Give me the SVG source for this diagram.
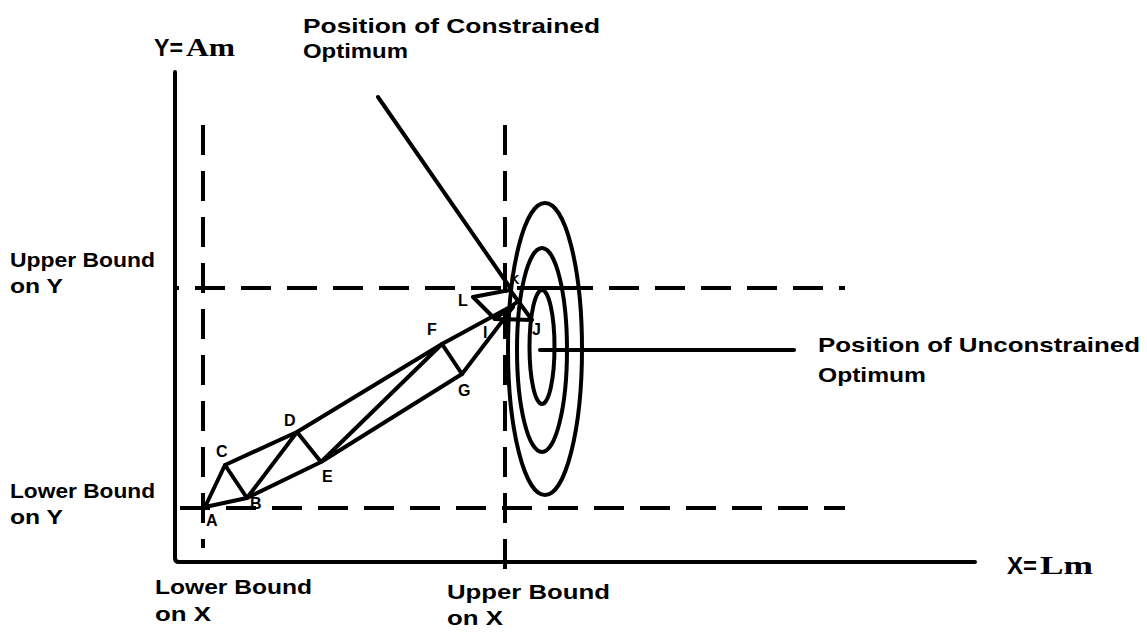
<svg xmlns="http://www.w3.org/2000/svg" width="1147" height="636" viewBox="0 0 1147 636">
<style>
.ln{stroke:#000;stroke-width:4;fill:none;stroke-linecap:round;stroke-linejoin:round}
.ds{stroke:#000;stroke-width:4;fill:none;stroke-dasharray:30 16}
.t{font-family:"Liberation Sans","DejaVu Sans",sans-serif;font-weight:bold;font-size:21px;fill:#000}
.s{font-family:"Liberation Sans","DejaVu Sans",sans-serif;font-weight:bold;font-size:16px;fill:#000}
.m{font-family:"Liberation Serif","DejaVu Serif",serif;font-weight:bold;font-size:25px;fill:#000}
</style>
<rect width="1147" height="636" fill="#fff"/>
<g id="axes">
<path class="ln" d="M175,72 V558 Q175,562 179,562 H975"/>
</g>
<g id="bounds">
<line class="ds" x1="203" y1="125" x2="203" y2="548"/>
<line class="ds" x1="505" y1="125" x2="505" y2="580"/>
<line class="ds" x1="175" y1="288" x2="845" y2="288" stroke-dashoffset="-20"/>
<line class="ds" x1="175" y1="508" x2="845" y2="508" stroke-dashoffset="-5"/>
<line class="ln" x1="538" y1="288" x2="582" y2="288"/>
</g>
<g id="contours">
<ellipse class="ln" cx="545" cy="349" rx="37" ry="146"/>
<ellipse class="ln" cx="542" cy="350" rx="25" ry="102"/>
<ellipse class="ln" cx="542" cy="347" rx="12.5" ry="57"/>
</g>
<g id="connectors">
<polyline class="ln" points="205,507 225,465 247,498 205,507"/>
<polyline class="ln" points="225,465 297,432 247,498 321,462 297,432 442,344 321,462 462,374 442,344"/>
<polyline class="ln" points="442,344 512,306"/>
<polyline class="ln" points="462,374 513,307"/>
<polyline class="ln" points="473,297 510,290 532,320 495,319 473,297"/>
<polyline class="ln" points="495,319 517,302"/>
<line class="ln" x1="378" y1="97" x2="511" y2="289"/>
<line class="ln" x1="540" y1="350" x2="794" y2="350"/>
</g>
<g id="pointA"><text class="s" x="206" y="526">A</text></g>
<g id="pointB"><text class="s" x="250" y="509">B</text></g>
<g id="pointC"><text class="s" x="216" y="457">C</text></g>
<g id="pointD"><text class="s" x="284" y="426">D</text></g>
<g id="pointE"><text class="s" x="322" y="482">E</text></g>
<g id="pointF"><text class="s" x="427" y="335">F</text></g>
<g id="pointG"><text class="s" x="458" y="396">G</text></g>
<g id="pointI"><text class="s" x="483" y="338">I</text></g>
<g id="pointJ"><text class="s" x="532" y="335">J</text></g>
<g id="pointK"><text class="s" x="510" y="284" style="font-size:13px">K</text></g>
<g id="pointL"><text class="s" x="458" y="306">L</text></g>
<g id="labelYaxis"><text class="t" x="154" y="56" style="font-size:24px" textLength="29" lengthAdjust="spacingAndGlyphs">Y=</text><text class="m" x="186" y="56" textLength="49" lengthAdjust="spacingAndGlyphs">Am</text></g>
<g id="labelXaxis"><text class="t" x="1007" y="574" style="font-size:24px" textLength="30" lengthAdjust="spacingAndGlyphs">X=</text><text class="m" x="1040" y="574" textLength="53" lengthAdjust="spacingAndGlyphs">Lm</text></g>
<g id="labelConstrained">
<text class="t" x="303" y="33" textLength="297" lengthAdjust="spacingAndGlyphs">Position of Constrained</text>
<text class="t" x="303" y="58" textLength="105" lengthAdjust="spacingAndGlyphs">Optimum</text>
</g>
<g id="labelUnconstrained">
<text class="t" x="818" y="352" textLength="322" lengthAdjust="spacingAndGlyphs">Position of Unconstrained</text>
<text class="t" x="818" y="382" textLength="108" lengthAdjust="spacingAndGlyphs">Optimum</text>
</g>
<g id="labelUpperY">
<text class="t" x="10" y="267" textLength="145" lengthAdjust="spacingAndGlyphs">Upper Bound</text>
<text class="t" x="10" y="293" textLength="53" lengthAdjust="spacingAndGlyphs">on Y</text>
</g>
<g id="labelLowerY">
<text class="t" x="10" y="498" textLength="145" lengthAdjust="spacingAndGlyphs">Lower Bound</text>
<text class="t" x="10" y="524" textLength="53" lengthAdjust="spacingAndGlyphs">on Y</text>
</g>
<g id="labelLowerX">
<text class="t" x="155" y="594" textLength="157" lengthAdjust="spacingAndGlyphs">Lower Bound</text>
<text class="t" x="155" y="621" textLength="56" lengthAdjust="spacingAndGlyphs">on X</text>
</g>
<g id="labelUpperX">
<text class="t" x="447" y="599" textLength="163" lengthAdjust="spacingAndGlyphs">Upper Bound</text>
<text class="t" x="447" y="625" textLength="56" lengthAdjust="spacingAndGlyphs">on X</text>
</g>
</svg>
